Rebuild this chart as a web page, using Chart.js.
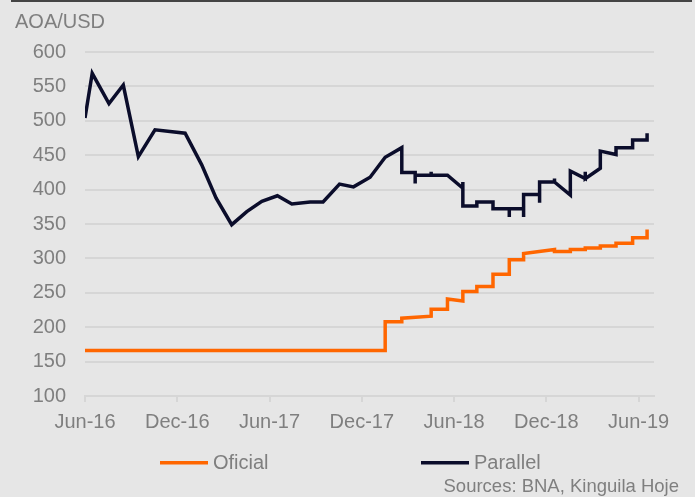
<!DOCTYPE html>
<html>
<head>
<meta charset="utf-8">
<script src="https://cdn.jsdelivr.net/npm/chart.js@4"></script>
<style>
    html, body { margin: 0; padding: 0; background: #e6e6e6; }
    #wrap { position: relative; width: 695px; height: 497px; }
</style>
</head>
<body>
<div id="wrap"><canvas id="fxChart" width="695" height="497"></canvas></div>
<script>
    // x values are months since Jun-16
    const tickValues = [0, 6, 12, 18, 24, 30, 36];
    const tickLabels = ["Jun-16", "Dec-16", "Jun-17", "Dec-17", "Jun-18", "Dec-18", "Jun-19"];
    const yTicks = [100, 150, 200, 250, 300, 350, 400, 450, 500, 550, 600];

    const seriesNames = ["Oficial", "Parallel"];
    const seriesColors = ["#ff6600", "#0b0d2b"];

    const oficialX = [0, 19.52, 19.52, 20.6, 20.6, 22.51, 22.51, 23.57, 23.57, 24.57, 24.57, 25.48, 25.48,
        26.53, 26.53, 27.59, 27.59, 28.52, 28.52, 30.53, 30.53, 31.56, 31.56, 32.53, 32.53, 33.51, 33.51,
        34.53, 34.53, 35.61, 35.61, 36.55, 36.55];
    const oficialY = [166, 166, 208, 208, 213, 216, 226, 226, 241, 238, 252, 252, 259,
        259, 277, 277, 298, 298, 307, 313, 310, 310, 313, 313, 315, 315, 318,
        318, 322, 322, 330, 330, 342];

    const parallelX = [0, 0.47, 1.56, 2.49, 3.47, 4.55, 6.51, 7.59, 8.52, 9.54, 10.52, 11.5, 12.51, 13.45,
        14.64, 15.48, 16.55, 17.46, 18.54, 19.52, 20.6, 20.6, 21.47, 21.47, 21.47, 22.51, 22.51, 22.51,
        23.57, 24.57, 24.57, 24.57, 25.48, 25.48, 26.53, 26.53, 27.59, 27.59, 27.59, 28.52, 28.52, 28.52,
        29.56, 29.56, 29.56, 30.53, 30.53, 30.53, 31.56, 31.56, 32.53, 32.53, 32.53, 33.51, 33.51,
        34.53, 34.53, 35.61, 35.61, 36.55, 36.55];
    const parallelY = [504, 569, 525, 552, 448, 487, 482, 436, 388, 349, 368, 383, 391, 379,
        382, 382, 408, 404, 418, 447, 461, 425, 425, 409, 421, 421, 426, 421,
        421, 402, 411, 376, 376, 382, 382, 372, 372, 360, 372, 372, 360, 393,
        393, 381, 411, 411, 416, 411, 392, 427, 416, 426, 416, 431, 456,
        451, 461, 461, 472, 472, 482];

    const textGray = "#7f7f7f";
    const font = "Liberation Sans, Arial, sans-serif";

    const toPoints = (xs, ys) => xs.map((x, i) => ({ x: x, y: ys[i] }));

    // extra drawing: unit label, top rule, legend and source note
    const decorPlugin = {
        id: "decor",
        afterDraw(chart) {
            const ctx = chart.ctx;
            ctx.save();
            ctx.fillStyle = "#444444";
            ctx.fillRect(11, 0, 681, 2);

            ctx.fillStyle = textGray;
            ctx.font = "20px " + font;
            ctx.textBaseline = "middle";
            ctx.textAlign = "left";
            ctx.fillText("AOA/USD", 15, 22);

            const legendX = [160, 421];
            chart.data.datasets.forEach((ds, i) => {
                ctx.fillStyle = ds.borderColor;
                ctx.fillRect(legendX[i], 461, 48, 3.5);
                ctx.fillStyle = textGray;
                ctx.fillText(ds.label, legendX[i] + 53, 463);
            });

            ctx.font = "18.5px " + font;
            ctx.textAlign = "right";
            ctx.fillText("Sources: BNA, Kinguila Hoje", 679, 487);
            ctx.restore();
        },
    };

    const initChart = () => {
        const ctx = document.getElementById("fxChart").getContext("2d");

        new Chart(ctx, {
            type: "line",
            data: {
                datasets: [
                    {
                        label: seriesNames[0],
                        data: toPoints(oficialX, oficialY),
                        borderColor: seriesColors[0],
                        borderWidth: 3.5,
                    },
                    {
                        label: seriesNames[1],
                        data: toPoints(parallelX, parallelY),
                        borderColor: seriesColors[1],
                        borderWidth: 3.5,
                    },
                ],
            },
            options: {
                responsive: false,
                animation: false,
                events: [],
                elements: {
                    point: { radius: 0 },
                    line: { tension: 0, borderJoinStyle: "miter", borderCapStyle: "butt" },
                },
                layout: { padding: { left: 0, right: 41, top: 52, bottom: 63 } },
                plugins: {
                    legend: { display: false },
                    tooltip: { enabled: false },
                },
                scales: {
                    x: {
                        type: "linear",
                        min: 0,
                        max: 37,
                        afterBuildTicks: (axis) => {
                            axis.ticks = tickValues.map((v) => ({ value: v }));
                        },
                        afterFit: (axis) => {
                            axis.paddingLeft = 0;
                            axis.paddingRight = 0;
                            axis.height = 38;
                        },
                        grid: {
                            drawOnChartArea: false,
                            drawTicks: true,
                            tickLength: 6,
                            color: "#d6d6d6",
                            lineWidth: 2,
                        },
                        border: { color: "#d6d6d6", width: 2 },
                        ticks: {
                            autoSkip: false,
                            maxRotation: 0,
                            padding: 8,
                            color: textGray,
                            font: { family: font, size: 20 },
                            callback: (value) => tickLabels[tickValues.indexOf(value)],
                        },
                    },
                    y: {
                        min: yTicks[0],
                        max: yTicks[yTicks.length - 1],
                        afterBuildTicks: (axis) => {
                            axis.ticks = yTicks.map((v) => ({ value: v }));
                        },
                        afterFit: (axis) => {
                            axis.width = 85;
                        },
                        grid: { drawTicks: false, color: "#d6d6d6", lineWidth: 2 },
                        border: { display: false },
                        ticks: {
                            padding: 19,
                            color: textGray,
                            font: { family: font, size: 20 },
                        },
                    },
                },
            },
            plugins: [decorPlugin],
        });
    };

    document.addEventListener("DOMContentLoaded", initChart);
</script>
</body>
</html>
